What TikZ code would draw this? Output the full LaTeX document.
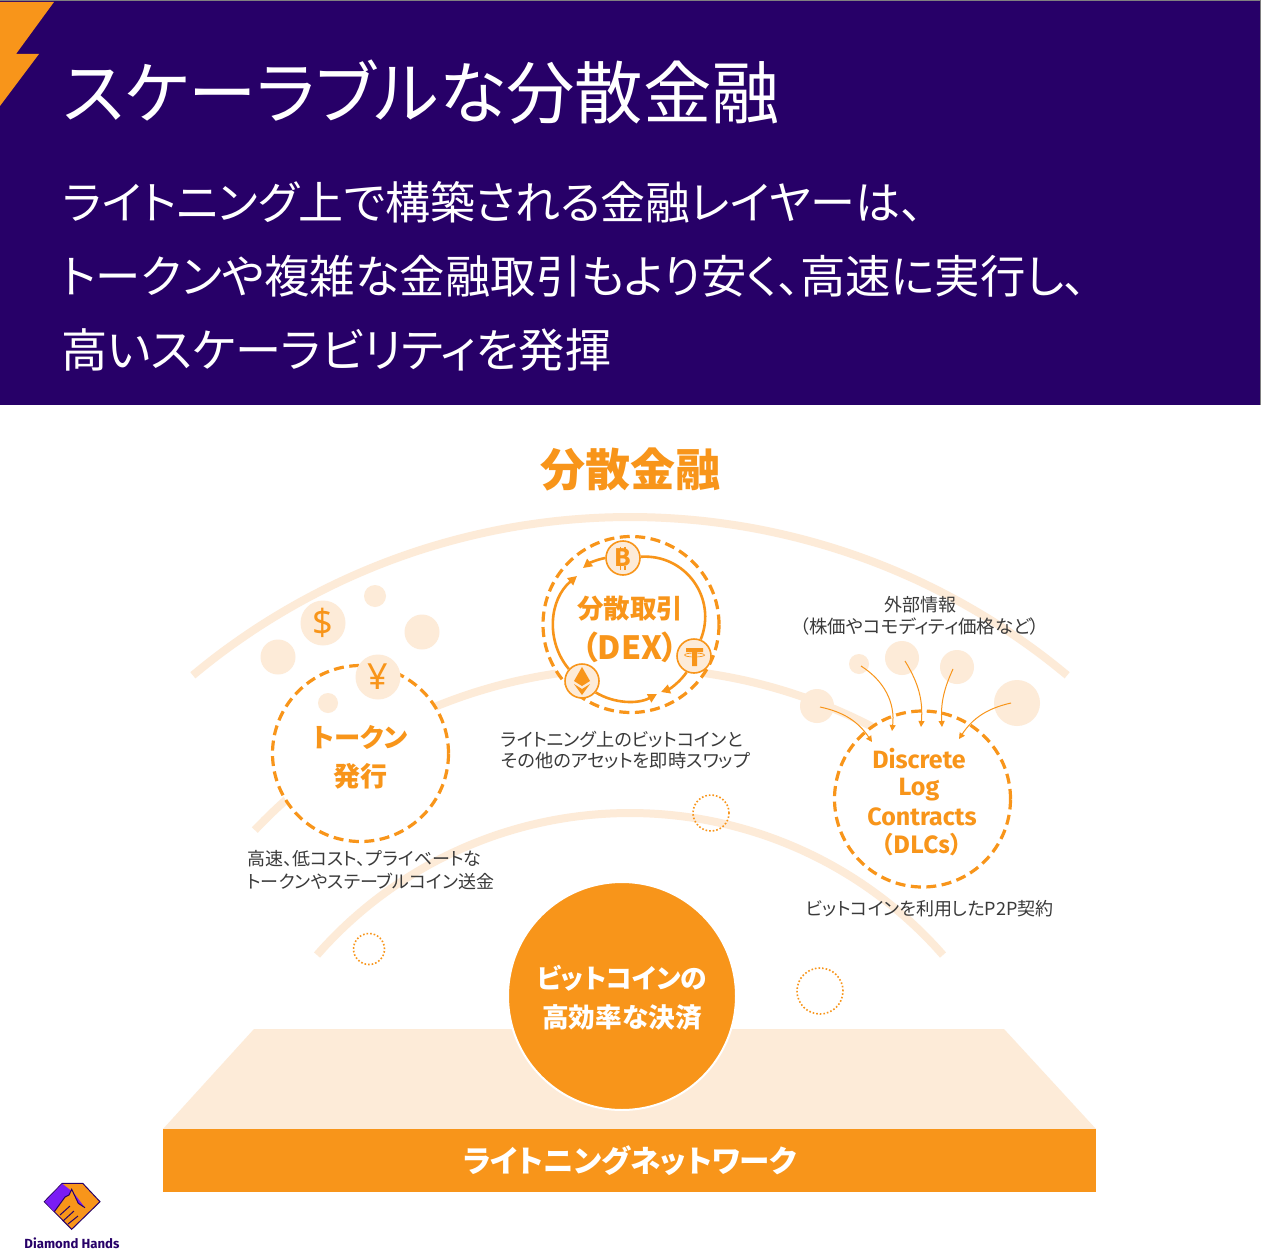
\documentclass[tikz,border=0pt]{standalone}
\usepackage{fontspec}
\setmainfont{Noto Sans CJK JP}[RawFeature=+palt]
\newfontfamily\latinfont{Fira Sans}
\newfontfamily\symfont{Noto Sans}
\usetikzlibrary{arrows.meta}
\definecolor{navy}{HTML}{270068}
\definecolor{org}{HTML}{F8951A}
\definecolor{pale}{HTML}{FDEBD8}
\definecolor{ink}{HTML}{3A3A3A}
\definecolor{violet}{HTML}{7A1CF5}
\tikzset{
  band/.style={line width=8pt,pale},
  bub/.style={circle,fill=pale,inner sep=0pt},
  coin/.style={circle,fill=pale,draw=org,line width=1.6pt,inner sep=0pt,minimum size=34pt,text=org},
  dashring/.style={circle,draw=org,fill=white,line width=3.2pt,dash pattern=on 10pt off 5.5pt,minimum size=176pt,inner sep=0pt},
  dotring/.style={circle,draw=org,dotted,line width=1.6pt,inner sep=0pt},
  cyc/.style={draw=org,line width=2.6pt,-{Triangle[length=9pt,width=9pt]}},
  cycplain/.style={draw=org,line width=2.6pt},
  thin/.style={draw=org,line width=1pt,-{Triangle[length=6pt,width=6pt]}},
  small/.style={text=ink,font=\fontsize{18}{22}\selectfont,inner sep=0pt},
  head/.style={text=org,font=\bfseries\fontsize{26.5}{30}\selectfont,inner sep=0pt},
  sub/.style={text=white,anchor=west,inner sep=0pt},
  dlctext/.style={text=org,inner sep=0pt,font=\latinfont\bfseries\fontsize{25}{25}\selectfont},
}
\begin{document}
\begin{tikzpicture}[x=1pt,y=-1pt]
\useasboundingbox (0,0) rectangle (1261,1260);
\fill[white] (0,0) rectangle (1261,1260);
% header
\fill[navy] (0,0) rectangle (1261,405);
\draw[gray,line width=.8pt] (0,.5) -- (1260.5,.5) -- (1260.5,405);
\fill[org] (0,2) -- (54,2) -- (16,54) -- (39,54) -- (0,106) -- cycle;
\node[text=white,anchor=west,inner sep=0pt,font=\fontsize{68.4}{74}\selectfont] (title) at (63,92) {スケーラブルな分散金融};
\node[sub,font=\fontsize{45}{50}\selectfont] (s1) at (63,202) {ライトニング上で構築される金融レイヤーは、};
\node[sub,font=\fontsize{45.4}{50}\selectfont] (s2) at (61,276) {トークンや複雑な金融取引もより安く、高速に実行し、};
\node[sub,font=\fontsize{46.2}{50}\selectfont] (s3) at (61,350) {高いスケーラビリティを発揮};
\node[text=org,font=\bfseries\fontsize{45}{50}\selectfont,inner sep=0pt] (h) at (630,469) {分散金融};
% arcs
\draw[band] plot[domain=129.8:50.2,samples=60,smooth] ({630+683*cos(\x)},{1200-683*sin(\x)});
\draw[band] plot[domain=136.5:60,samples=60,smooth] ({632+520*cos(\x)},{1188-520*sin(\x)});
\draw[band] plot[domain=138.8:41.2,samples=60,smooth] ({630+416*cos(\x)},{1229-416*sin(\x)});
% base
\fill[pale] (254,1029) -- (1004,1029) -- (1096,1129) -- (163,1129) -- cycle;
\node[fill=org,minimum width=933pt,minimum height=63pt,inner sep=0pt] (bar) at (629.5,1160.5) {};
\node[text=white,inner sep=0pt,font=\bfseries\fontsize{30.5}{36}\selectfont] (barT) at (630,1161) {ライトニングネットワーク};
\node[circle,fill=org,draw=white,line width=2pt,minimum size=228pt,inner sep=0pt] (core) at (622,996) {};
\node[text=white,inner sep=0pt,font=\bfseries\fontsize{26.7}{30}\selectfont] (coreA) at (622,978) {ビットコインの};
\node[text=white,inner sep=0pt,font=\bfseries\fontsize{26.7}{30}\selectfont] (coreB) at (622,1017) {高効率な決済};
% dotted
\node[dotring,minimum size=36pt] (d1) at (711,813) {};
\node[dotring,minimum size=31pt] (d2) at (369,949) {};
\node[dotring,minimum size=46pt] (d3) at (820,991) {};
% token
\node[bub,minimum size=45pt,text=org,font=\symfont\fontsize{36}{36}\selectfont] (usd) at (323,623) {\$};
\node[bub,minimum size=22pt] (t1) at (375,596) {};
\node[bub,minimum size=35pt] (t2) at (422,632) {};
\node[bub,minimum size=35pt] (t3) at (278,657) {};
\node[dashring] (tok) at (360.5,753.5) {};
\node[bub,minimum size=45pt,text=org,font=\symfont\fontsize{36}{36}\selectfont] (jpy) at (378,677) {¥};
\node[bub,minimum size=20pt] (t4) at (328,703) {};
\node[head,font=\bfseries\fontsize{26.3}{30}\selectfont] (tokA) at (360,737) {トークン};
\node[head,font=\bfseries\fontsize{27}{30}\selectfont] (tokB) at (360,776) {発行};
\node[small,anchor=west] (tokC) at (247,859) {高速、低コスト、プライベートな};
\node[small,anchor=west] (tokD) at (247,881) {トークンやステーブルコイン送金};
% DEX
\node[dashring] (dex) at (631,624.5) {};
\node[coin,font=\bfseries\fontsize{24}{24}\selectfont] (btc) at (623,558) {B};
\draw[org,line width=1.6pt] (620.5,546.5) -- (620.5,550) (625,546.5) -- (625,550) (620.5,566) -- (620.5,569.5) (625,566) -- (625,569.5);
\node[coin] (eth) at (582,681) {};
\node[coin] (teth) at (694,656) {};
\coordinate (tipA) at (583,568);
\coordinate (tipB) at (577,576);
\coordinate (tipC) at (657,694);
\coordinate (tipD) at (661,692);
\draw[cycplain] (btc) to[bend left=58,looseness=1.12] (teth);
\draw[cyc] (btc) to[bend right=14,looseness=.85] (tipA);
\draw[cyc] (eth) to[bend left=45,looseness=1] (tipB);
\draw[cyc] (eth) to[bend right=30,looseness=.9] (tipC);
\draw[cyc] (teth) to[bend left=18,looseness=.85] (tipD);
\fill[org] (582,667) -- (590,681) -- (582,686) -- (574,681) -- cycle;
\fill[org] (574,684) -- (582,689) -- (590,684) -- (582,695) -- cycle;
\fill[org] (686,648) -- (703,648) -- (703,652) -- (697,652) -- (697,666) -- (692,666) -- (692,652) -- (686,652) -- cycle;
\draw[org,line width=.7pt] (694.5,655) ellipse[x radius=10,y radius=2];
\node[head] (dexA) at (630,609) {分散取引};
\node[head,font=\bfseries\fontsize{32}{33}\selectfont] (dexB) at (630,647) {（DEX）};
\node[small,anchor=west,font=\fontsize{18.2}{22}\selectfont] (dexC) at (501,740) {ライトニング上のビットコインと};
\node[small,anchor=west,font=\fontsize{18.2}{22}\selectfont] (dexD) at (501,761) {その他のアセットを即時スワップ};
% DLC
\node[bub,minimum size=20pt] (b1) at (859,664) {};
\node[bub,minimum size=34pt] (b2) at (902,658) {};
\node[bub,minimum size=34pt] (b3) at (957,667) {};
\node[bub,minimum size=46pt] (b4) at (1017,703) {};
\node[bub,minimum size=34pt] (b5) at (817,706) {};
\node[dashring] (dlc) at (922.5,799) {};
\coordinate (s1a) at (861,666); \coordinate (e1a) at (892,731);
\coordinate (s2a) at (905,661); \coordinate (e2a) at (921,727);
\coordinate (s3a) at (953,669); \coordinate (e3a) at (942,727);
\coordinate (s4a) at (1011,703); \coordinate (e4a) at (959,739);
\coordinate (s5a) at (820,707); \coordinate (e5a) at (872,742);
\draw[thin] (s1a) to[bend left=32] (e1a);
\draw[thin] (s2a) to[bend left=18] (e2a);
\draw[thin] (s3a) to[bend right=14] (e3a);
\draw[thin] (s4a) to[bend right=22] (e4a);
\draw[thin] (s5a) to[bend left=22] (e5a);
\node[dlctext] (dl1) at (919,758.5) {Discrete};
\node[dlctext] (dl2) at (919,790) {Log};
\node[dlctext] (dl3) at (922,817) {Contracts};
\node[head,font=\bfseries\fontsize{23.5}{24}\selectfont] (dl4) at (922,845) {（DLCs）};
\node[small] (ex1) at (920,605) {外部情報};
\node[small,font=\fontsize{18.4}{22}\selectfont] (ex2) at (920,627) {（株価やコモディティ価格など）};
\node[small,anchor=west] (dlcC) at (806,909) {ビットコインを利用したP2P契約};
% logo
\fill[org,draw=navy,line width=1pt] (62.3,1183.3) -- (82.7,1183.3) -- (100,1201.7) -- (71.7,1229.3) -- (44.3,1201.7) -- cycle;
\fill[violet] (62.3,1183.8) -- (44.9,1201.7) -- (54.3,1211.7) -- (65,1197) -- (69,1195) -- (71.7,1189.3) -- (78.3,1203.3) -- (85,1207.7) -- (73,1192) -- cycle;
\draw[navy,line width=1pt] (54.3,1211.7) -- (65,1197) -- (69,1195) -- (71.7,1189.3) -- (78.3,1203.3) -- (85,1207.7);
\draw[navy,line width=1pt] (60,1215) -- (70,1206) (63,1221) -- (74,1211) (68,1224) -- (78,1216);
\node[text=navy,inner sep=0pt,font=\latinfont\bfseries\fontsize{13.2}{14}\selectfont] (logo) at (72,1243) {Diamond Hands};
\end{tikzpicture}
\end{document}
